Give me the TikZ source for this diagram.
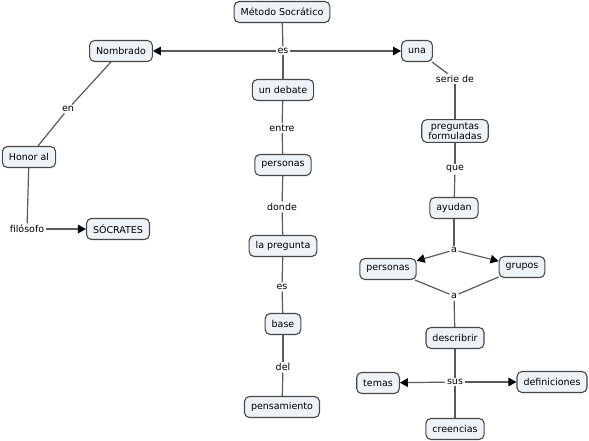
\documentclass[tikz,border=0pt]{standalone}
\usepackage{fontspec}
\setmainfont{DejaVu Sans}
\usetikzlibrary{arrows.meta}
\definecolor{conceptfill}{HTML}{EEF3F7}
\definecolor{conceptline}{HTML}{474747}
\definecolor{linkline}{HTML}{5A5A5A}

\begin{document}
\begin{tikzpicture}[x=1pt, y=-1pt,
    every node/.style={font=\fontsize{9.5}{11}\selectfont},
    concept/.style={draw=conceptline, fill=conceptfill, rounded corners=5pt, line width=1.1pt,
        minimum height=21pt, inner xsep=6.5pt, inner ysep=3pt, align=center},
    linkword/.style={fill=white, inner sep=1.5pt},
    link/.style={draw=linkline, line width=1.2pt},
    arrowlink/.style={link, -{Triangle[length=8pt, width=8.5pt, color=black]}}]
    \useasboundingbox (0,0) rectangle (589,441);

    % --- Concepts ---
    \node[concept] (metodo) at (282,12) {Método Socrático};
    \node[concept] (nombrado) at (121,51) {Nombrado};
    \node[concept] (una) at (417,51) {una};
    \node[concept] (debate) at (283,90) {un debate};
    \node[concept] (personasA) at (283,165) {personas};
    \node[concept] (pregunta) at (283,246) {la pregunta};
    \node[concept] (base) at (283,324) {base};
    \node[concept] (pensamiento) at (282,407) {pensamiento};
    \node[concept] (honor) at (29,157) {Honor al};
    \node[concept] (socrates) at (118,229) {SÓCRATES};
    \node[concept] (preguntas) at (455,131) {preguntas\\[-1pt]formuladas};
    \node[concept] (ayudan) at (454,208) {ayudan};
    \node[concept] (personasB) at (388,269) {personas};
    \node[concept] (grupos) at (522,267) {grupos};
    \node[concept] (describrir) at (455,338) {describrir};
    \node[concept] (temas) at (378,383) {temas};
    \node[concept] (definiciones) at (552,382) {definiciones};
    \node[concept] (creencias) at (455,429) {creencias};

    % --- Linking words ---
    \node[linkword] (es) at (283,51) {es};
    \node[linkword] (entre) at (282,128) {entre};
    \node[linkword] (donde) at (282,207) {donde};
    \node[linkword] (esB) at (282,287) {es};
    \node[linkword] (del) at (283,367) {del};
    \node[linkword] (en) at (68,109) {en};
    \node[linkword] (filosofo) at (27,229) {filósofo};
    \node[linkword] (serie) at (455,79) {serie de};
    \node[linkword] (que) at (455,169) {que};
    \node[linkword] (aA) at (454,250) {a};
    \node[linkword] (aB) at (454,296) {a};
    \node[linkword] (sus) at (455,382) {sus};

    % --- Centre column ---
    \draw[link] (metodo) -- (es);
    \draw[arrowlink] (es) -- (nombrado);
    \draw[arrowlink] (es) -- (una);
    \draw[link] (es) -- (debate);
    \draw[link] (debate) -- (entre);
    \draw[link] (entre) -- (personasA);
    \draw[link] (personasA) -- (donde);
    \draw[link] (donde) -- (pregunta);
    \draw[link] (pregunta) -- (esB);
    \draw[link] (esB) -- (base);
    \draw[link] (base) -- (del);
    \draw[link] (del) -- (pensamiento);

    % --- Left branch ---
    \draw[link] (nombrado) -- (en);
    \draw[link] (en) -- (honor);
    \draw[link] (honor) -- (filosofo);
    \draw[arrowlink] (filosofo) -- (socrates);

    % --- Right branch ---
    \draw[link] (una) -- (serie);
    \draw[link] (serie) -- (preguntas);
    \draw[link] (preguntas) -- (que);
    \draw[link] (que) -- (ayudan);
    \draw[link] (ayudan) -- (aA);
    \draw[arrowlink] (aA) -- (personasB);
    \draw[arrowlink] (aA) -- (grupos);
    \draw[link] (personasB) -- (aB);
    \draw[link] (grupos) -- (aB);
    \draw[link] (aB) -- (describrir);
    \draw[link] (describrir) -- (sus);
    \draw[arrowlink] (sus) -- (temas);
    \draw[arrowlink] (sus) -- (definiciones);
    \draw[link] (sus) -- (creencias);
\end{tikzpicture}
\end{document}
